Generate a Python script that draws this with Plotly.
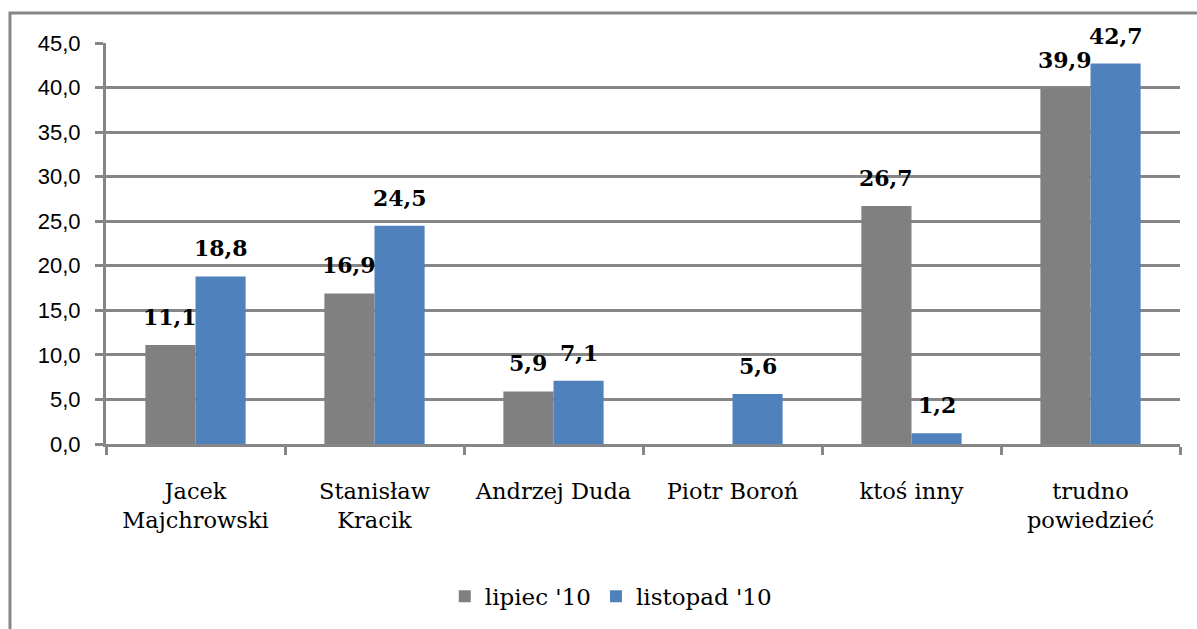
import plotly.graph_objects as go

categories = ["Jacek<br>Majchrowski", "Stanisław<br>Kracik", "Andrzej Duda",
              "Piotr Boroń", "ktoś inny", "trudno<br>powiedzieć"]
lipiec = [11.1, 16.9, 5.9, None, 26.7, 39.9]
listopad = [18.8, 24.5, 7.1, 5.6, 1.2, 42.7]
series_names = ["lipiec '10", "listopad '10"]
y_ticks = [0, 5, 10, 15, 20, 25, 30, 35, 40, 45]

colors = ["#808080", "#4F81BD"]
serif = "DejaVu Serif, Liberation Serif, serif"
label_font = dict(family="DejaVu Serif", size=22, color="#000000")

W, H = 1197, 629
ML, MR, MT, MB = 106, 17, 43, 185
BARGAP = 0.44
plot_w = W - ML - MR
bar_px = plot_w / len(categories) * (1 - BARGAP) / 2

fig = go.Figure()
for name, vals, col in zip(series_names, [lipiec, listopad], colors):
    fig.add_trace(go.Bar(x=categories, y=vals, name=name,
                         marker=dict(color=col, line=dict(width=0))))

annotations = []
for k, vals in enumerate([lipiec, listopad]):
    shift = (k - 0.5) * bar_px
    for cat, v in zip(categories, vals):
        if v is None:
            continue
        annotations.append(dict(x=cat, y=v, xref="x", yref="y",
                                text="<b>" + f"{v:.1f}".replace(".", ",") + "</b>",
                                showarrow=False, xshift=shift, yshift=13,
                                yanchor="bottom", xanchor="center",
                                font=label_font))

fig.update_layout(
    width=W, height=H,
    margin=dict(l=ML, r=MR, t=MT, b=MB, autoexpand=False),
    paper_bgcolor="white", plot_bgcolor="white",
    separators=",.",
    barmode="group", bargap=BARGAP, bargroupgap=0,
    showlegend=True,
    legend=dict(orientation="h", x=0.47, xanchor="center", y=-0.38, yanchor="middle",
                font=dict(family=serif, size=23, color="#000"),
                traceorder="normal"),
    annotations=annotations,
    shapes=[dict(type="rect", xref="paper", yref="paper",
                 x0=-0.0894, x1=1.05, y0=-0.6, y1=1.0748,
                 line=dict(color="#868686", width=3), fillcolor="rgba(0,0,0,0)",
                 layer="below")],
)
fig.update_yaxes(range=[0, 45], tickvals=y_ticks, tickformat=".1f",
                 showgrid=True, gridcolor="#868686", gridwidth=3,
                 showline=True, linecolor="#868686", linewidth=3,
                 ticks="outside", ticklen=8, tickwidth=3, tickcolor="#868686",
                 tickfont=dict(family="Liberation Sans, Arial", size=22, color="#000"),
                 ticklabelstandoff=10, automargin=False,
                 zeroline=False)
fig.update_xaxes(showline=True, linecolor="#868686", linewidth=3,
                 ticks="outside", ticklen=8, tickwidth=3, tickcolor="#868686",
                 tickson="boundaries", automargin=False,
                 tickfont=dict(family=serif, size=22.5, color="#000"),
                 ticklabelstandoff=25)

fig.write_html("out.html", config={"displayModeBar": False},
               post_script="document.body.style.margin='0';document.body.style.overflow='hidden';")
